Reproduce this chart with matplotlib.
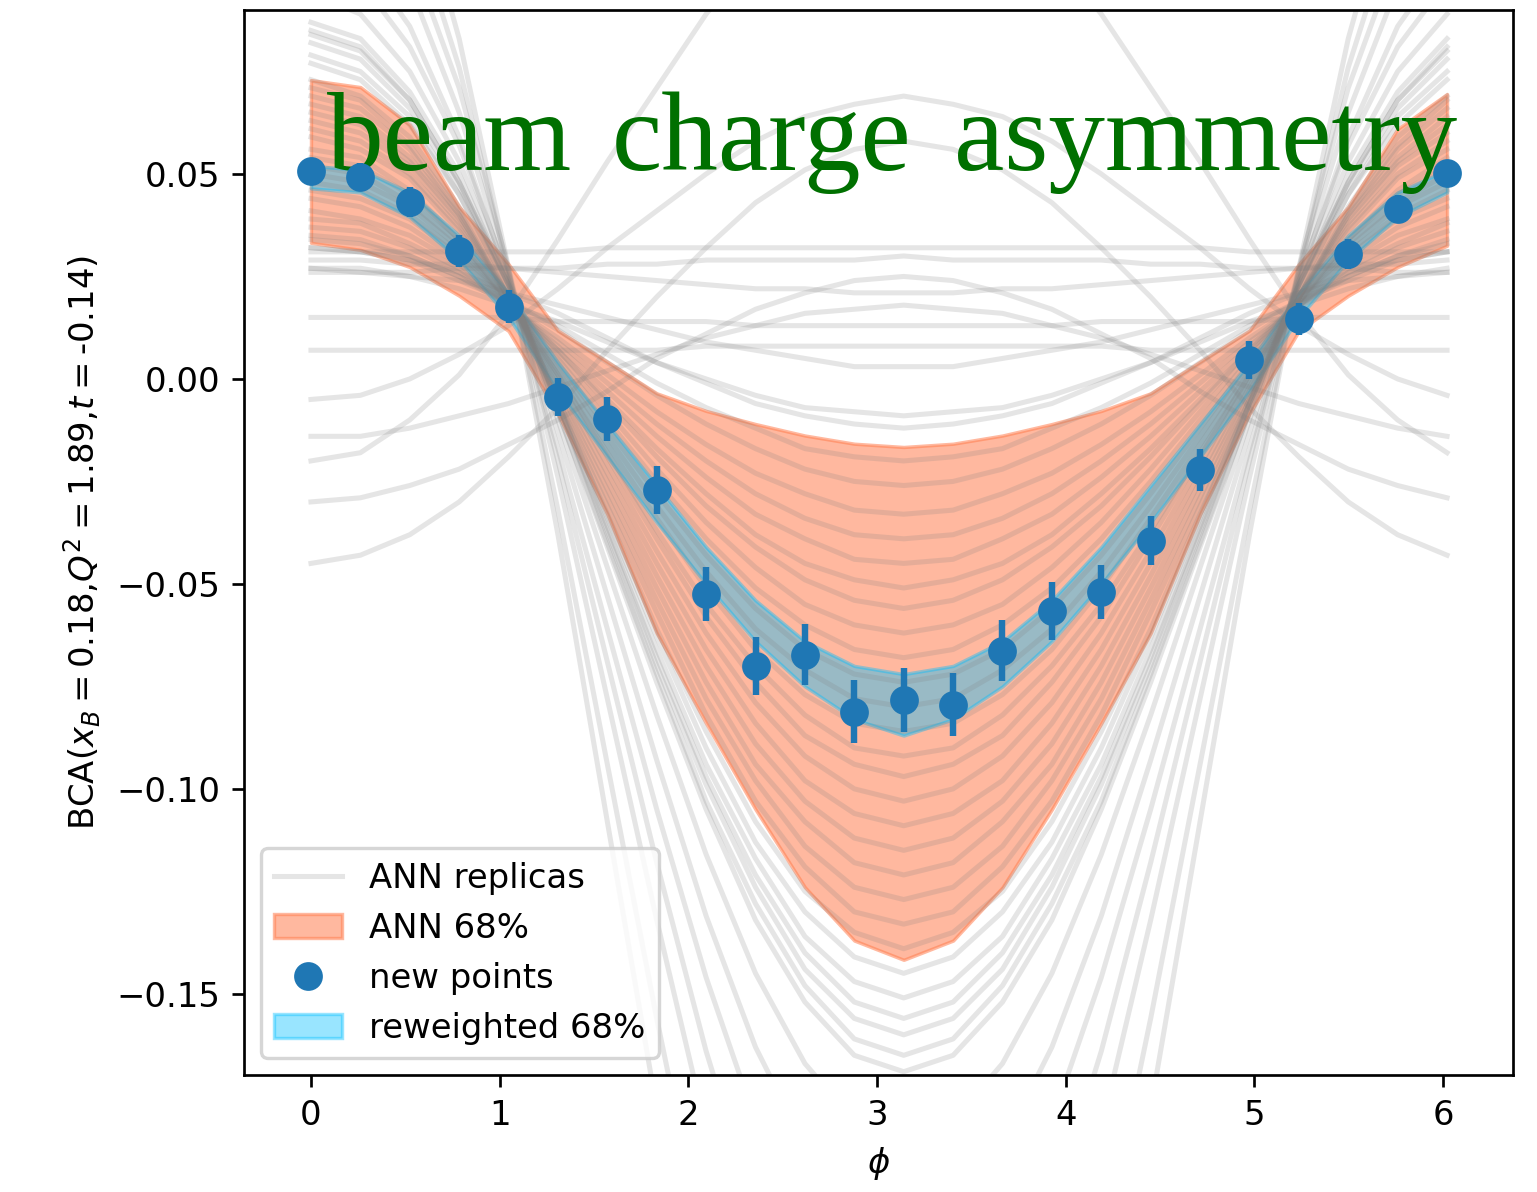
import numpy as np
import matplotlib
matplotlib.use('Agg')
import matplotlib.pyplot as plt

# phi bins (24 bins of pi/12)
phi = np.arange(24) * np.pi / 12

# pseudo-data points and their errors
bca = [0.0507, 0.0493, 0.0432, 0.0312, 0.0176, -0.0044, -0.0098, -0.0271,
       -0.0524, -0.0700, -0.0673, -0.0812, -0.0783, -0.0795, -0.0663, -0.0566,
       -0.0520, -0.0395, -0.0222, 0.0046, 0.0146, 0.0305, 0.0415, 0.0502]
bca_err = [0.0030, 0.0033, 0.0037, 0.0040, 0.0040, 0.0046, 0.0054, 0.0059,
           0.0066, 0.0071, 0.0074, 0.0077, 0.0078, 0.0077, 0.0074, 0.0070,
           0.0065, 0.0060, 0.0052, 0.0046, 0.0040, 0.0037, 0.0033, 0.0030]

# ANN 68% band
ann_hi = [0.0729, 0.0712, 0.0620, 0.0420, 0.0280, 0.0118, 0.0042, -0.0035,
          -0.0078, -0.0110, -0.0138, -0.0158, -0.0166, -0.0158, -0.0138, -0.0110,
          -0.0078, -0.0035, 0.0042, 0.0118, 0.0280, 0.0420, 0.0610, 0.0695]
ann_lo = [0.0332, 0.0315, 0.0273, 0.0203, 0.0117, -0.0085, -0.0330, -0.0620,
          -0.0840, -0.1050, -0.1240, -0.1370, -0.1417, -0.1370, -0.1240, -0.1050,
          -0.0840, -0.0620, -0.0330, -0.0085, 0.0117, 0.0203, 0.0273, 0.0325]

# reweighted 68% band
rw_hi = [0.0520, 0.0510, 0.0455, 0.0350, 0.0210, 0.0040, -0.0110, -0.0260,
         -0.0410, -0.0540, -0.0640, -0.0700, -0.0720, -0.0700, -0.0640, -0.0540,
         -0.0410, -0.0260, -0.0110, 0.0040, 0.0210, 0.0350, 0.0455, 0.0510]
rw_lo = [0.0465, 0.0455, 0.0395, 0.0290, 0.0150, -0.0030, -0.0190, -0.0350,
         -0.0500, -0.0640, -0.0750, -0.0830, -0.0870, -0.0830, -0.0750, -0.0640,
         -0.0500, -0.0350, -0.0190, -0.0030, 0.0150, 0.0290, 0.0395, 0.0455]

# ANN replicas, phi = 0 .. pi (symmetric about pi)
replicas_core = [
    [0.032, 0.031, 0.029, 0.026, 0.021, 0.016, 0.010, 0.004, -0.001, -0.006, -0.009, -0.011, -0.012],
    [0.032, 0.031, 0.029, 0.024, 0.019, 0.013, 0.006, -0.001, -0.007, -0.012, -0.017, -0.019, -0.020],
    [0.034, 0.033, 0.030, 0.025, 0.019, 0.012, 0.004, -0.004, -0.011, -0.017, -0.022, -0.025, -0.026],
    [0.035, 0.034, 0.030, 0.025, 0.018, 0.010, 0.001, -0.008, -0.016, -0.023, -0.028, -0.032, -0.033],
    [0.037, 0.036, 0.032, 0.026, 0.018, 0.009, -0.001, -0.011, -0.020, -0.028, -0.034, -0.038, -0.039],
    [0.039, 0.038, 0.033, 0.027, 0.018, 0.008, -0.003, -0.014, -0.024, -0.033, -0.039, -0.044, -0.045],
    [0.041, 0.039, 0.035, 0.028, 0.018, 0.007, -0.005, -0.017, -0.028, -0.038, -0.045, -0.049, -0.051],
    [0.044, 0.042, 0.037, 0.029, 0.019, 0.007, -0.006, -0.019, -0.031, -0.041, -0.049, -0.054, -0.056],
    [0.046, 0.044, 0.039, 0.030, 0.019, 0.006, -0.008, -0.022, -0.035, -0.046, -0.055, -0.060, -0.062],
    [0.048, 0.046, 0.040, 0.031, 0.019, 0.005, -0.010, -0.025, -0.039, -0.051, -0.060, -0.066, -0.068],
    [0.050, 0.048, 0.042, 0.032, 0.019, 0.004, -0.012, -0.028, -0.043, -0.056, -0.066, -0.072, -0.074],
    [0.052, 0.050, 0.043, 0.033, 0.019, 0.003, -0.014, -0.031, -0.047, -0.061, -0.071, -0.078, -0.080],
    [0.054, 0.052, 0.045, 0.034, 0.019, 0.002, -0.016, -0.034, -0.051, -0.066, -0.077, -0.084, -0.086],
    [0.056, 0.054, 0.046, 0.034, 0.019, 0.001, -0.018, -0.037, -0.055, -0.070, -0.082, -0.090, -0.092],
    [0.059, 0.056, 0.049, 0.036, 0.020, 0.001, -0.019, -0.039, -0.058, -0.074, -0.087, -0.094, -0.097],
    [0.061, 0.058, 0.050, 0.037, 0.020, 0.000, -0.021, -0.042, -0.062, -0.079, -0.092, -0.100, -0.103],
    [0.063, 0.060, 0.052, 0.038, 0.020, -0.001, -0.023, -0.045, -0.066, -0.084, -0.098, -0.106, -0.109],
    [0.065, 0.062, 0.053, 0.039, 0.020, -0.002, -0.025, -0.048, -0.070, -0.089, -0.103, -0.112, -0.115],
    [0.067, 0.064, 0.054, 0.040, 0.020, -0.003, -0.027, -0.051, -0.074, -0.094, -0.108, -0.118, -0.121],
    [0.069, 0.066, 0.056, 0.040, 0.020, -0.004, -0.029, -0.054, -0.078, -0.098, -0.114, -0.124, -0.127],
    [0.071, 0.068, 0.057, 0.041, 0.020, -0.005, -0.031, -0.057, -0.082, -0.103, -0.119, -0.130, -0.133],
    [0.073, 0.069, 0.059, 0.042, 0.020, -0.006, -0.033, -0.061, -0.086, -0.108, -0.125, -0.135, -0.139],
]
replicas_wide = [
    [0.077, 0.073, 0.062, 0.045, 0.022, -0.005, -0.034, -0.063, -0.090, -0.113, -0.130, -0.141, -0.145],
    [0.079, 0.075, 0.064, 0.045, 0.022, -0.006, -0.036, -0.066, -0.094, -0.117, -0.136, -0.147, -0.151],
    [0.082, 0.078, 0.066, 0.047, 0.023, -0.006, -0.037, -0.068, -0.097, -0.121, -0.140, -0.152, -0.156],
    [0.084, 0.080, 0.068, 0.048, 0.023, -0.006, -0.038, -0.070, -0.099, -0.124, -0.144, -0.156, -0.160],
    [0.085, 0.081, 0.068, 0.048, 0.023, -0.008, -0.040, -0.072, -0.103, -0.128, -0.148, -0.161, -0.165],
    [0.087, 0.083, 0.070, 0.050, 0.023, -0.008, -0.041, -0.074, -0.105, -0.132, -0.152, -0.165, -0.169],
    [0.094, 0.089, 0.075, 0.053, 0.024, -0.010, -0.046, -0.082, -0.116, -0.145, -0.167, -0.181, -0.186],
    [0.102, 0.097, 0.081, 0.057, 0.025, -0.013, -0.053, -0.093, -0.131, -0.163, -0.187, -0.203, -0.208],
    [0.109, 0.103, 0.086, 0.059, 0.024, -0.017, -0.061, -0.105, -0.146, -0.181, -0.208, -0.225, -0.231],
    [0.121, 0.115, 0.096, 0.065, 0.026, -0.020, -0.069, -0.118, -0.164, -0.203, -0.234, -0.253, -0.259],
    [0.132, 0.125, 0.104, 0.071, 0.027, -0.024, -0.078, -0.132, -0.183, -0.227, -0.260, -0.281, -0.288],
    [0.146, 0.138, 0.114, 0.076, 0.026, -0.032, -0.094, -0.156, -0.214, -0.264, -0.302, -0.326, -0.334],
    [0.162, 0.153, 0.126, 0.083, 0.027, -0.038, -0.108, -0.178, -0.243, -0.299, -0.342, -0.369, -0.378],
]
replicas_flat = [
    [0.027, 0.027, 0.025, 0.024, 0.021, 0.018, 0.015, 0.012, 0.009, 0.007, 0.005, 0.003, 0.003],
    [0.027, 0.026, 0.025, 0.022, 0.018, 0.014, 0.009, 0.004, 0.000, -0.004, -0.007, -0.008, -0.009],
    [0.031, 0.031, 0.031, 0.031, 0.031, 0.031, 0.032, 0.032, 0.032, 0.032, 0.032, 0.032, 0.032],
    [0.026, 0.026, 0.026, 0.027, 0.027, 0.027, 0.028, 0.028, 0.029, 0.029, 0.029, 0.029, 0.030],
    [0.029, 0.029, 0.028, 0.028, 0.027, 0.026, 0.025, 0.024, 0.023, 0.022, 0.022, 0.021, 0.021],
    [0.015, 0.015, 0.015, 0.015, 0.015, 0.014, 0.014, 0.014, 0.014, 0.013, 0.013, 0.013, 0.013],
    [0.007, 0.007, 0.007, 0.007, 0.007, 0.007, 0.007, 0.007, 0.008, 0.008, 0.008, 0.008, 0.008],
    [-0.005, -0.004, 0.000, 0.006, 0.013, 0.022, 0.032, 0.041, 0.050, 0.058, 0.064, 0.067, 0.069],
    [-0.014, -0.014, -0.012, -0.009, -0.006, -0.002, 0.002, 0.006, 0.010, 0.013, 0.016, 0.017, 0.018],
    [-0.020, -0.018, -0.010, 0.001, 0.016, 0.034, 0.053, 0.071, 0.089, 0.104, 0.115, 0.123, 0.125],
    [-0.030, -0.029, -0.026, -0.022, -0.016, -0.010, -0.003, 0.005, 0.011, 0.017, 0.021, 0.024, 0.025],
    [-0.045, -0.043, -0.038, -0.030, -0.019, -0.007, 0.007, 0.020, 0.032, 0.043, 0.051, 0.056, 0.058],
]

title_words = ['beam', 'charge', 'asymmetry']
title_x = [0.085, 1.595, 3.41]


def full_period(half):
    # values on [0, pi] -> all 24 bins, mirrored about pi
    return list(half) + list(half[11:0:-1])


DPI = 243.6
fig = plt.figure(figsize=(1537 / DPI, 1192 / DPI), dpi=DPI)
ax = fig.add_axes([244 / 1537, 1 - 1075 / 1192, 1269 / 1537, 1065 / 1192])

replicas = replicas_core + replicas_wide + replicas_flat
for i, rep in enumerate(replicas):
    ax.plot(phi, full_period(rep), color='gray', alpha=0.2, lw=1.5,
            label='ANN replicas' if i == 0 else None)

ax.fill_between(phi, ann_lo, ann_hi, color='coral', alpha=0.55, label='ANN 68%')
ax.errorbar(phi, bca, yerr=bca_err, fmt='none', ecolor='C0', elinewidth=1.9, zorder=4)
ax.plot(phi, bca, 'o', color='C0', ms=7.5, label='new points', zorder=5)
ax.fill_between(phi, rw_lo, rw_hi, color='deepskyblue', alpha=0.4, label='reweighted 68%')

for word, x in zip(title_words, title_x):
    ax.text(x, 0.051, word, family='Liberation Serif', fontsize=33.5,
            color='#007000', va='baseline', zorder=4.5)

ax.set_xlim(-0.355, 6.371)
ax.set_ylim(-0.1698, 0.09)
ax.set_xlabel(r'$\phi$')
ax.set_ylabel(r'BCA($x_B=0.18$,$Q^2=1.89$,$t=$-0.14)')
ax.legend(loc='lower left')

fig.savefig('out.png', dpi=DPI)
